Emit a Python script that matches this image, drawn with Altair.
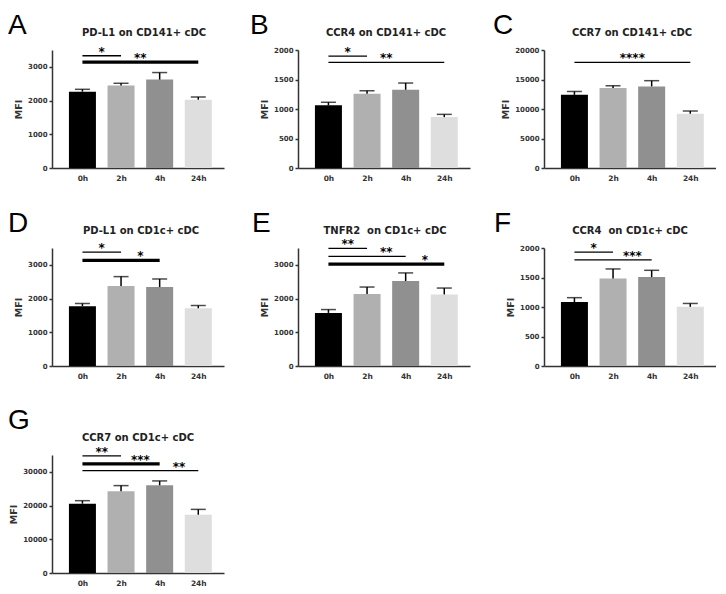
import json
import altair as alt
import pandas as pd

# ---------------- data ----------------
times = ["0h", "2h", "4h", "24h"]
bar_colors = ["#000000", "#b0b0b0", "#909090", "#dedede"]

letters = ["A", "B", "C", "D", "E", "F", "G"]
titles = [
    "PD-L1 on CD141+ cDC",
    "CCR4 on CD141+ cDC",
    "CCR7 on CD141+ cDC",
    "PD-L1 on CD1c+ cDC",
    "TNFR2\u00a0 on CD1c+ cDC",
    "CCR4\u00a0 on CD1c+ cDC",
    "CCR7 on CD1c+ cDC",
]

mean_A = [2265, 2444, 2622, 2026]
upper_A = [2334, 2513, 2831, 2106]
mean_B = [1063, 1257, 1326, 863]
upper_B = [1114, 1309, 1440, 909]
mean_C = [12400, 13540, 13830, 9200]
upper_C = [12970, 13940, 14800, 9660]
mean_D = [1774, 2372, 2342, 1714]
upper_D = [1854, 2651, 2581, 1794]
mean_E = [1575, 2133, 2522, 2123]
upper_E = [1674, 2342, 2761, 2312]
mean_F = [1083, 1484, 1507, 1003]
upper_F = [1158, 1645, 1622, 1060]
mean_G = [20560, 24230, 26020, 17280]
upper_G = [21450, 25920, 27310, 18870]

y_max = [3500, 2000, 20000, 3500, 3500, 2000, 35000]
y_step = [1000, 500, 5000, 1000, 1000, 500, 10000]

# significance brackets: (from, to, stars, level, star position in category units)
sig_A = [("0h", "2h", "*", 3330, 0.5), ("0h", "24h", "**", 3140, 1.5)]
sig_B = [("0h", "2h", "*", 1897, 0.5), ("0h", "24h", "**", 1789, 1.5)]
sig_C = [("0h", "24h", "****", 17890, 1.5)]
sig_D = [("0h", "2h", "*", 3380, 0.5), ("0h", "4h", "*", 3130, 1.5)]
sig_E = [("0h", "2h", "**", 3488, 0.5), ("0h", "4h", "**", 3250, 1.5), ("0h", "24h", "*", 3020, 2.5)]
sig_F = [("0h", "2h", "*", 1931, 0.5), ("0h", "4h", "***", 1799, 1.5)]
sig_G = [("0h", "2h", "**", 34760, 0.5), ("0h", "4h", "***", 32370, 1.5), ("0h", "24h", "**", 30390, 2.5)]

means = [mean_A, mean_B, mean_C, mean_D, mean_E, mean_F, mean_G]
uppers = [upper_A, upper_B, upper_C, upper_D, upper_E, upper_F, upper_G]
sigs = [sig_A, sig_B, sig_C, sig_D, sig_E, sig_F, sig_G]

# ---------------- layout / style ----------------
FONT = "DejaVu Sans"
W, H = 172, 118
STEP_PX, FIRST_PX, BAR_PX = 41, 27, 27
x_domain = [-FIRST_PX / STEP_PX, (W - FIRST_PX) / STEP_PX]
label_expr = json.dumps(times) + "[datum.value]"

letter_pos = [(-44, -16), (-48, -16), (-51, -16), (-44, -16), (-46, -16), (-50, -16), (-44, -26)]
title_dx = [6, 2, 2, 3, 1, 0, 0]
sig_widths = [[1.3, 3.2], [1.3, 1.3], [1.3], [1.3, 3.2], [1.3, 1.3, 3.2], [1.3, 1.3], [1.3, 3.2, 1.3]]


def make_panel(i):
    df = pd.DataFrame({
        "time": times,
        "pos": list(range(len(times))),
        "mean": means[i],
        "upper": uppers[i],
    })
    xs = alt.Scale(domain=x_domain, nice=False, zero=False)
    ys = alt.Scale(domain=[0, y_max[i]], nice=False)
    x_axis = alt.Axis(
        values=list(range(len(times))), labelExpr=label_expr, ticks=False, grid=False,
        title=None, domainColor="#333", domainWidth=1.5, labelFont=FONT,
        labelFontSize=7.5, labelFontWeight="bold", labelColor="#333", labelPadding=6,
    )
    y_axis = alt.Axis(
        values=list(range(0, y_max[i] + 1, y_step[i])), format="d", grid=False, title="MFI",
        titleFont=FONT, titleFontSize=9.5, titleFontWeight="bold", titleColor="#333",
        titlePadding=4, tickSize=3, tickWidth=1.5, tickColor="#333",
        domainColor="#333", domainWidth=1.5, labelFont=FONT, labelFontSize=7,
        labelFontWeight="bold", labelColor="#333", labelPadding=2, labelOverlap=False,
    )

    def X(f):
        return alt.X(f, scale=xs, axis=x_axis)

    def Y(f):
        return alt.Y(f, scale=ys, axis=y_axis, stack=None)

    base = alt.Chart(df)
    bars = base.mark_bar(size=BAR_PX).encode(
        x=X("pos:Q"),
        y=Y("mean:Q"),
        color=alt.Color("time:N", scale=alt.Scale(domain=times, range=bar_colors), legend=None),
    )
    err = base.mark_rule(color="black", strokeWidth=1.5).encode(
        x=X("pos:Q"), y=Y("mean:Q"), y2="upper:Q"
    )
    cap = base.mark_tick(color="black", thickness=1.5, size=15, orient="horizontal").encode(
        x=X("pos:Q"), y=Y("upper:Q")
    )
    rows = []
    for (a, b, lab, lvl, spos), w in zip(sigs[i], sig_widths[i]):
        rows.append({"x1": times.index(a), "x2": times.index(b), "spos": spos,
                     "lvl": lvl, "label": lab, "w": w})
    sdf = pd.DataFrame(rows)
    lines = alt.Chart(sdf).mark_rule(color="black").encode(
        x=X("x1:Q"), x2="x2:Q", y=Y("lvl:Q"),
        strokeWidth=alt.StrokeWidth("w:Q", scale=None),
    )
    stars = alt.Chart(sdf).mark_text(
        font=FONT, fontWeight="bold", fontSize=12, baseline="alphabetic", dy=0, color="#000"
    ).encode(x=X("spos:Q"), y=Y("lvl:Q"), text="label:N")
    lx, ly = letter_pos[i]
    letter = alt.Chart(pd.DataFrame({"t": [letters[i]]})).mark_text(
        font="Liberation Sans", fontSize=28, align="left", baseline="alphabetic", color="#000"
    ).encode(x=alt.value(lx), y=alt.value(ly), text="t:N")
    title = alt.Chart(pd.DataFrame({"t": [titles[i]]})).mark_text(
        font=FONT, fontSize=10, fontWeight="bold", align="center", baseline="alphabetic",
        color="#222"
    ).encode(x=alt.value(W / 2 + title_dx[i]), y=alt.value(-14), text="t:N")
    return alt.layer(bars, err, cap, lines, stars, title, letter).properties(width=W, height=H)


panels = [make_panel(i) for i in range(7)]
row1 = alt.hconcat(panels[0], panels[1], panels[2], spacing=74, bounds="flush")
row2 = alt.hconcat(panels[3], panels[4], panels[5], spacing=74, bounds="flush")
top_rows = alt.vconcat(row1, row2, spacing=28)
chart = (
    alt.vconcat(top_rows, panels[6], spacing=27)
    .properties(padding={"top": 4, "left": 0, "right": 0, "bottom": 0})
    .configure_view(stroke=None)
)
chart.save("out.html", embed_options={"renderer": "svg", "actions": False})
